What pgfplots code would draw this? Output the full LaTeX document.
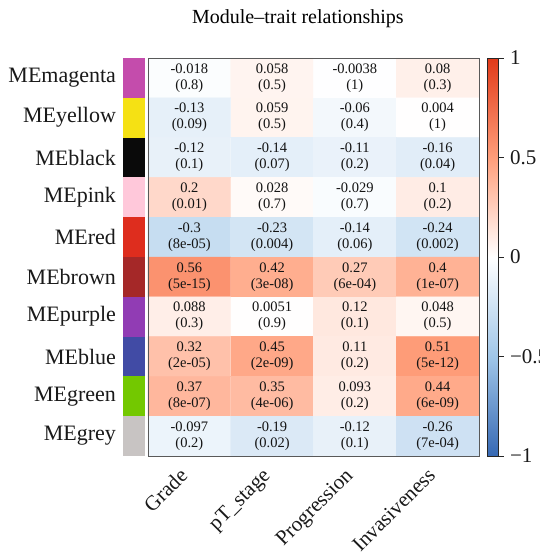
\documentclass[border=0pt]{standalone}
\usepackage{fontspec}
\setmainfont{Liberation Serif}
\usepackage{pgfplots}
\usepackage{pgfplotstable}
\pgfplotsset{compat=1.18}

\definecolor{cmagenta}{RGB}{196,76,172}
\definecolor{cyellow}{RGB}{245,225,20}
\definecolor{cblack}{RGB}{10,10,10}
\definecolor{cpink}{RGB}{255,200,218}
\definecolor{cred}{RGB}{222,45,30}
\definecolor{cbrown}{RGB}{165,40,40}
\definecolor{cpurple}{RGB}{145,60,180}
\definecolor{cblue}{RGB}{65,75,165}
\definecolor{cgreen}{RGB}{115,200,0}
\definecolor{cgrey}{RGB}{200,196,195}

\pgfplotstableread{
x y r lab
0 0 -0.018 {-0.018\\(0.8)}
1 0 0.058 {0.058\\(0.5)}
2 0 -0.0038 {-0.0038\\(1)}
3 0 0.08 {0.08\\(0.3)}
0 1 -0.13 {-0.13\\(0.09)}
1 1 0.059 {0.059\\(0.5)}
2 1 -0.06 {-0.06\\(0.4)}
3 1 0.004 {0.004\\(1)}
0 2 -0.12 {-0.12\\(0.1)}
1 2 -0.14 {-0.14\\(0.07)}
2 2 -0.11 {-0.11\\(0.2)}
3 2 -0.16 {-0.16\\(0.04)}
0 3 0.2 {0.2\\(0.01)}
1 3 0.028 {0.028\\(0.7)}
2 3 -0.029 {-0.029\\(0.7)}
3 3 0.1 {0.1\\(0.2)}
0 4 -0.3 {-0.3\\(8e-05)}
1 4 -0.23 {-0.23\\(0.004)}
2 4 -0.14 {-0.14\\(0.06)}
3 4 -0.24 {-0.24\\(0.002)}
0 5 0.56 {0.56\\(5e-15)}
1 5 0.42 {0.42\\(3e-08)}
2 5 0.27 {0.27\\(6e-04)}
3 5 0.4 {0.4\\(1e-07)}
0 6 0.088 {0.088\\(0.3)}
1 6 0.0051 {0.0051\\(0.9)}
2 6 0.12 {0.12\\(0.1)}
3 6 0.048 {0.048\\(0.5)}
0 7 0.32 {0.32\\(2e-05)}
1 7 0.45 {0.45\\(2e-09)}
2 7 0.11 {0.11\\(0.2)}
3 7 0.51 {0.51\\(5e-12)}
0 8 0.37 {0.37\\(8e-07)}
1 8 0.35 {0.35\\(4e-06)}
2 8 0.093 {0.093\\(0.2)}
3 8 0.44 {0.44\\(6e-09)}
0 9 -0.097 {-0.097\\(0.2)}
1 9 -0.19 {-0.19\\(0.02)}
2 9 -0.12 {-0.12\\(0.1)}
3 9 -0.26 {-0.26\\(7e-04)}
}\cordata

\begin{document}
\begin{tikzpicture}
\useasboundingbox (-148pt,-104pt) rectangle (392pt,456pt);
\begin{axis}[
  at={(0pt,0pt)}, anchor=south west,
  scale only axis, width=331pt, height=398pt,
  xmin=-0.5, xmax=3.5, ymin=-0.5, ymax=9.5,
  y dir=reverse,
  clip=false,
  axis on top,
  axis line style={draw=black!65, line width=0.9pt},
  major tick length=0pt,
  xtick={0,1,2,3},
  xticklabels={Grade,pT\_stage,Progression,Invasiveness},
  ytick={0,1,2,3,4,5,6,7,8,9},
  yticklabels={MEmagenta,MEyellow,MEblack,MEpink,MEred,MEbrown,MEpurple,MEblue,MEgreen,MEgrey},
  yticklabel style={font=\fontsize{22}{25}\selectfont, color=black!90, anchor=east, xshift=-28.5pt},
  xticklabel style={font=\fontsize{21}{24}\selectfont, color=black!90, anchor=north east, xshift=-11pt, yshift=-6pt, rotate=45},
  title={Module–trait relationships},
  title style={at={(0.453,1)}, anchor=center, yshift=33pt, font=\fontsize{20}{23}\selectfont},
  colormap={wgcna}{rgb255=(55,105,180) rgb255=(160,198,232) rgb255=(255,255,255) rgb255=(255,158,122) rgb255=(225,58,25)},
  point meta min=-1, point meta max=1,
  colorbar,
  colorbar style={
    at={(parent axis.north east)}, anchor=north west, xshift=0pt,
    width=11pt,
    axis line style={draw=black!85, line width=0.9pt},
    ytick={-1,-0.5,0,0.5,1},
    yticklabels={−1,−0.5,0,0.5,1},
    yticklabel pos=right,
    ytick pos=right,
    tick align=outside,
    major tick length=5pt,
    tick style={black!85, line width=0.8pt},
    yticklabel style={font=\fontsize{21}{24}\selectfont, color=black!90, xshift=3pt},
  },
]
\addplot[matrix plot*, mesh/cols=4, point meta=explicit] table[x=x, y=y, meta=r] {\cordata};
\addplot[only marks, mark=*, mark size=0pt, mark options={draw=none, fill=none},
  point meta=explicit symbolic,
  nodes near coords={\pgfplotspointmeta},
  nodes near coords align=center,
  every node near coord/.append style={font=\fontsize{14.5}{16}\selectfont, align=center, anchor=center, text=black!92, inner sep=0pt}]
  table[x=x, y=y, meta=lab] {\cordata};
\addplot[fill=cmagenta, draw=none, forget plot] coordinates {(-0.802,-0.5) (-0.536,-0.5) (-0.536,0.5) (-0.802,0.5)} -- cycle;
\addplot[fill=cyellow, draw=none, forget plot] coordinates {(-0.802,0.5) (-0.536,0.5) (-0.536,1.5) (-0.802,1.5)} -- cycle;
\addplot[fill=cblack, draw=none, forget plot] coordinates {(-0.802,1.5) (-0.536,1.5) (-0.536,2.5) (-0.802,2.5)} -- cycle;
\addplot[fill=cpink, draw=none, forget plot] coordinates {(-0.802,2.5) (-0.536,2.5) (-0.536,3.5) (-0.802,3.5)} -- cycle;
\addplot[fill=cred, draw=none, forget plot] coordinates {(-0.802,3.5) (-0.536,3.5) (-0.536,4.5) (-0.802,4.5)} -- cycle;
\addplot[fill=cbrown, draw=none, forget plot] coordinates {(-0.802,4.5) (-0.536,4.5) (-0.536,5.5) (-0.802,5.5)} -- cycle;
\addplot[fill=cpurple, draw=none, forget plot] coordinates {(-0.802,5.5) (-0.536,5.5) (-0.536,6.5) (-0.802,6.5)} -- cycle;
\addplot[fill=cblue, draw=none, forget plot] coordinates {(-0.802,6.5) (-0.536,6.5) (-0.536,7.5) (-0.802,7.5)} -- cycle;
\addplot[fill=cgreen, draw=none, forget plot] coordinates {(-0.802,7.5) (-0.536,7.5) (-0.536,8.5) (-0.802,8.5)} -- cycle;
\addplot[fill=cgrey, draw=none, forget plot] coordinates {(-0.802,8.5) (-0.536,8.5) (-0.536,9.5) (-0.802,9.5)} -- cycle;
\end{axis}
\end{tikzpicture}
\end{document}
